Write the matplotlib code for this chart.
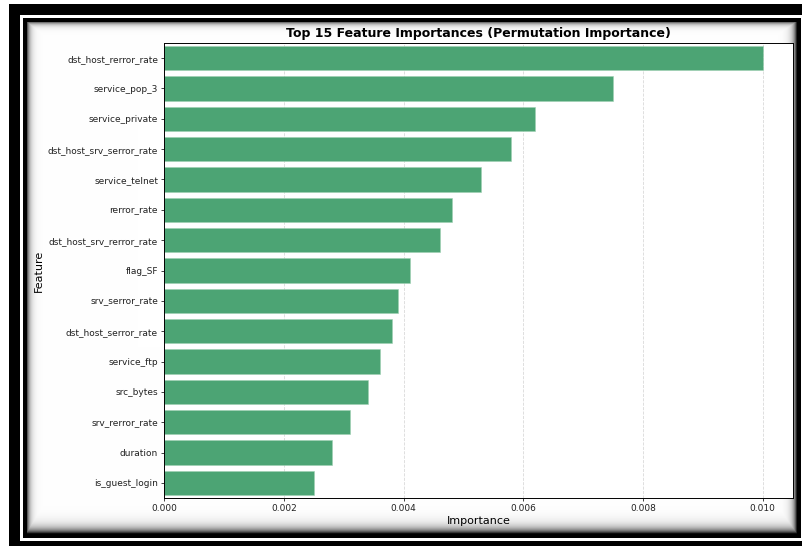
import numpy as np
import matplotlib
matplotlib.use('Agg')
import matplotlib.pyplot as plt

# Permutation importances of the top 15 features
features = ['dst_host_rerror_rate', 'service_pop_3', 'service_private',
            'dst_host_srv_serror_rate', 'service_telnet', 'rerror_rate',
            'dst_host_srv_rerror_rate', 'flag_SF', 'srv_serror_rate',
            'dst_host_serror_rate', 'service_ftp', 'src_bytes',
            'srv_rerror_rate', 'duration', 'is_guest_login']
importances = [0.0100, 0.0075, 0.0062, 0.0058, 0.0053, 0.0048, 0.0046, 0.0041,
               0.0039, 0.0038, 0.0036, 0.0034, 0.0031, 0.0028, 0.0025]
xticks = [0.000, 0.002, 0.004, 0.006, 0.008, 0.010]

W, H = 803, 546
fig = plt.figure(figsize=(W / 100, H / 100), dpi=100)

# framed background: double black border with a soft inner shadow
bg = np.ones((H, W, 3))
bg[4:, 9:] = 0.0
bg[15:541, 20:802] = 1.0
bg[18:538, 23:801] = 0.0
x0, x1, y0, y1 = 27, 797, 22, 534
yy, xx = np.mgrid[y0:y1, x0:x1]
shade = np.maximum.reduce([
    0.65 * np.exp(-(xx - x0) / 3.0),
    0.55 * np.exp(-(yy - y0) / 2.5),
    0.85 * np.exp(-(x1 - 1 - xx) / 3.5),
    0.95 * np.exp(-(y1 - 1 - yy) / 5.0),
])
bg[y0:y1, x0:x1] = (1 - shade)[..., None]
fig.figimage(bg, xo=0, yo=0, origin='upper', zorder=-10)

ax = fig.add_axes([164.3 / W, 48 / H, (792.7 - 164.3) / W, 455 / H])
ax.set_zorder(1)
ax.set_facecolor('white')
ax.barh(features, importances, height=0.8, color='#4ca474',
        edgecolor='#9fd0b3', linewidth=0.4, zorder=2)
ax.set_ylim(len(features) - 0.5, -0.5)
ax.set_xticks(xticks)
ax.set_xticklabels([f'{t:.3f}' for t in xticks])
ax.grid(axis='x', linestyle='--', color='#c0c0c0', alpha=0.6, linewidth=0.6, zorder=0)
ax.set_axisbelow(True)

ax.set_title('Top 15 Feature Importances (Permutation Importance)',
             fontsize=9, fontweight='bold', pad=4.5)
ax.set_xlabel('Importance', fontsize=8, labelpad=2)
ax.set_ylabel('Feature', fontsize=8, labelpad=3)
ax.tick_params(labelsize=6.5, length=2.5, width=0.6, pad=2, colors='#222222')
for s in ax.spines.values():
    s.set_linewidth(0.7)

fig.savefig('out.png', dpi=100)
